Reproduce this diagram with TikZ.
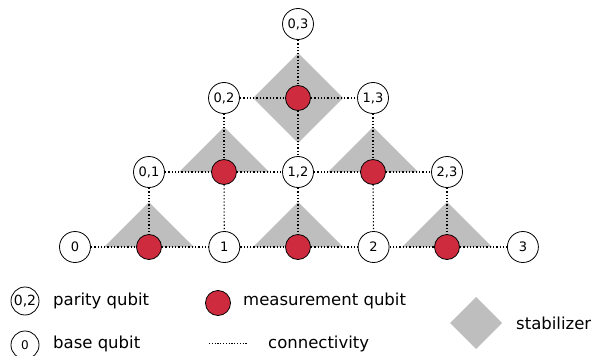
\documentclass[tikz,border=0pt]{standalone}
\usepackage{fontspec}
\setmainfont{DejaVu Sans}
\usetikzlibrary{positioning}
\definecolor{MeasRed}{RGB}{206,43,62}
\definecolor{StabGray}{RGB}{190,190,190}

\begin{document}
\begin{tikzpicture}[x=1pt,y=-1pt,
    qubit/.style={circle,draw,line width=0.8pt,fill=white,minimum size=31pt,inner sep=0pt,font=\fontsize{13}{13}\selectfont},
    smallqubit/.style={qubit,minimum size=28pt},
    meas/.style={circle,draw,line width=0.8pt,fill=MeasRed,minimum size=25pt,inner sep=0pt},
    conn/.style={line width=1.1pt,dash pattern=on 1.3pt off 2pt},
    legtext/.style={anchor=west,inner sep=0pt,font=\fontsize{16.5}{17}\selectfont}]
      \useasboundingbox (0,0) rectangle (598,356);
      % stabilizers
      \foreach \x/\y in {149/247,298/247,447/247,224/172,373/172}{
        \fill[StabGray] (\x-45,\y)--(\x,\y-45)--(\x+45,\y)--cycle;}
      \fill[StabGray] (253,98)--(298,53)--(343,98)--(298,143)--cycle;
      % qubits
      \foreach \i in {0,...,3}{\node[qubit] (b\i) at (75+149.3*\i,247) {\i};}
      \node[qubit] (p01) at (149,172) {0,1};
      \node[qubit] (p12) at (298,172) {1,2};
      \node[qubit] (p23) at (447,172) {2,3};
      \node[qubit] (p02) at (224,98) {0,2};
      \node[qubit] (p13) at (373,98) {1,3};
      \node[qubit] (p03) at (298,24) {0,3};
      \node[meas] (m1) at (149,247) {};
      \node[meas] (m2) at (298,247) {};
      \node[meas] (m3) at (447,247) {};
      \node[meas] (m4) at (224,172) {};
      \node[meas] (m5) at (373,172) {};
      \node[meas] (m6) at (298,98) {};
      % connectivity
      \draw[conn] (b0)--(m1)--(b1)--(m2)--(b2)--(m3)--(b3);
      \draw[conn] (p01)--(m4)--(p12)--(m5)--(p23);
      \draw[conn] (p02)--(m6)--(p13);
      \foreach \a/\b in {p01/m1,m4/b1,p12/m2,m5/b2,p23/m3,p02/m4,m6/p12,p13/m5,p03/m6}{
        \draw[conn] (\a)--(\b);}
      % legend
      \node[smallqubit,font=\fontsize{14}{14}\selectfont] (lp) at (25,301) {0,2};
      \node[legtext] (lpt) at (53,301) {parity qubit};
      \node[smallqubit,font=\fontsize{12}{12}\selectfont] (lb) at (25,345) {0};
      \node[legtext] (lbt) at (53,344) {base qubit};
      \node[meas] (lm) at (218,303) {};
      \node[legtext] (lmt) at (243,301) {measurement qubit};
      \coordinate (lc1) at (209,343);
      \coordinate (lc2) at (247,343);
      \draw[line width=0.9pt,dash pattern=on 1.2pt off 1.6pt] (lc1)--(lc2);
      \node[legtext] (lct) at (268,344) {connectivity};
      \fill[StabGray] (450,323)--(476,297)--(502,323)--(476,349)--cycle;
      \node[legtext] (lst) at (516,323) {stabilizer};
    \end{tikzpicture}
\end{document}
